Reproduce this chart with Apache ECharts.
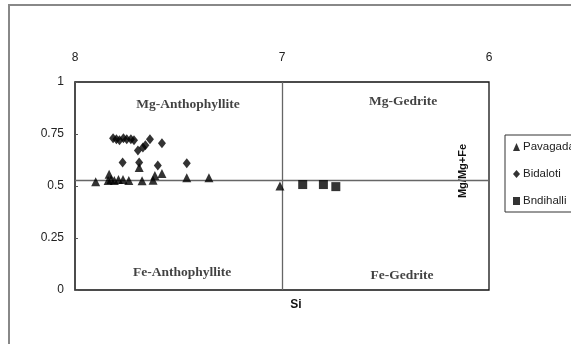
<!DOCTYPE html>
<html>
<head>
<meta charset="utf-8">
<script src="https://cdn.jsdelivr.net/npm/echarts@6/dist/echarts.min.js"></script>
<style>
  html, body { margin: 0; padding: 0; background: #fff; }
  #chart { width: 571px; height: 344px; }
</style>
</head>
<body>
<div id="chart"></div>
<script>
// Si (apfu) vs Mg/(Mg+Fe) for orthoamphiboles
const xTicks = [8, 7, 6];
const yTicks = [0, 0.25, 0.5, 0.75, 1];

const pavagada = [
  [7.90, 0.52], [7.84, 0.527], [7.835, 0.556], [7.826, 0.531], [7.81, 0.527],
  [7.79, 0.531], [7.768, 0.531], [7.74, 0.527], [7.69, 0.589], [7.676, 0.525],
  [7.623, 0.528], [7.614, 0.55], [7.58, 0.56], [7.46, 0.54], [7.353, 0.54],
  [7.01, 0.50]
];
const bidaloti = [
  [7.816, 0.730], [7.80, 0.725], [7.785, 0.72], [7.766, 0.73], [7.75, 0.725],
  [7.73, 0.725], [7.715, 0.72], [7.696, 0.671], [7.672, 0.685], [7.66, 0.696],
  [7.638, 0.725], [7.58, 0.705], [7.77, 0.613], [7.69, 0.613], [7.60, 0.599],
  [7.46, 0.609]
];
const bndihalli = [
  [6.90, 0.507], [6.80, 0.507], [6.74, 0.497]
];

// Field boundaries
const siBoundary = 7;
const mgBoundary = 0.53;

// Field names, placed in data units
const regionNames = ['Mg-Anthophyllite', 'Mg-Gedrite', 'Fe-Anthophyllite', 'Fe-Gedrite'];
const regionPos = [[7.454, 0.894], [6.415, 0.908], [7.483, 0.082], [6.42, 0.072]];

const chart = echarts.init(document.getElementById('chart'));

const markerSeries = (name, data, symbol, size) => ({
  name, type: 'scatter', data, symbol, symbolSize: size,
  itemStyle: { color: '#000' }, z: 5
});

chart.setOption({
  animation: false,
  backgroundColor: '#fff',
  grid: {
    left: 75, top: 82, right: 82, bottom: 54,
    show: true, borderColor: '#111', borderWidth: 1.3, backgroundColor: 'transparent'
  },
  xAxis: {
    type: 'value', position: 'top', inverse: true,
    min: 6, max: 8, interval: 1,
    axisLine: { show: false }, axisTick: { show: false },
    splitLine: { show: false },
    axisLabel: { color: '#222', fontSize: 12, fontFamily: 'Liberation Sans, Arial', margin: 18 }
  },
  yAxis: {
    type: 'value', min: 0, max: 1, interval: 0.25,
    axisLine: { show: true, lineStyle: { color: '#444', width: 1.5 } },
    axisTick: { show: true, inside: true, length: 3, lineStyle: { color: '#555' } },
    splitLine: { show: false },
    axisLabel: { color: '#222', fontSize: 12, fontFamily: 'Liberation Sans, Arial', margin: 11 }
  },
  legend: {
    orient: 'vertical', left: 505, top: 135,
    padding: [6, 10, 5, 8], itemGap: 15,
    itemWidth: 7, itemHeight: 8,
    borderColor: '#333', borderWidth: 1,
    data: ['Pavagada', 'Bidaloti', 'Bndihalli'],
    textStyle: { color: '#222', fontSize: 11.5, fontFamily: 'Liberation Sans, Arial', padding: [0, 0, 0, -2] }
  },
  series: [
    Object.assign(markerSeries('Pavagada', pavagada, 'triangle', 9), {
      markLine: {
        silent: true, symbol: 'none', label: { show: false },
        lineStyle: { color: '#666', width: 1.3, type: 'solid' },
        data: [{ xAxis: siBoundary }, { yAxis: mgBoundary }]
      }
    }),
    markerSeries('Bidaloti', bidaloti, 'diamond', [8, 10]),
    markerSeries('Bndihalli', bndihalli, 'rect', 9),
    {
      name: 'fields', type: 'scatter', silent: true, symbolSize: 0,
      data: regionPos.map((p, i) => ({ value: p, name: regionNames[i] })),
      label: {
        show: true, position: 'inside', formatter: '{b}',
        color: '#111', fontSize: 13.5, fontWeight: 'bold',
        fontFamily: 'Liberation Serif, Times New Roman, serif'
      }
    }
  ],
  graphic: [
    { type: 'line', shape: { x1: 9, y1: 5, x2: 9, y2: 344 }, style: { stroke: '#888', lineWidth: 2 } },
    { type: 'line', shape: { x1: 8, y1: 5, x2: 571, y2: 5 }, style: { stroke: '#888', lineWidth: 2 } },
    {
      type: 'text', x: 296, y: 305,
      style: { text: 'Si', fill: '#111', font: 'bold 12px Liberation Sans, Arial', align: 'center', verticalAlign: 'middle' }
    },
    {
      type: 'text', x: 463, y: 171, rotation: Math.PI / 2,
      style: { text: 'Mg/Mg+Fe', fill: '#111', font: 'bold 11px Liberation Sans, Arial', align: 'center', verticalAlign: 'middle' }
    }
  ]
});
</script>
</body>
</html>
